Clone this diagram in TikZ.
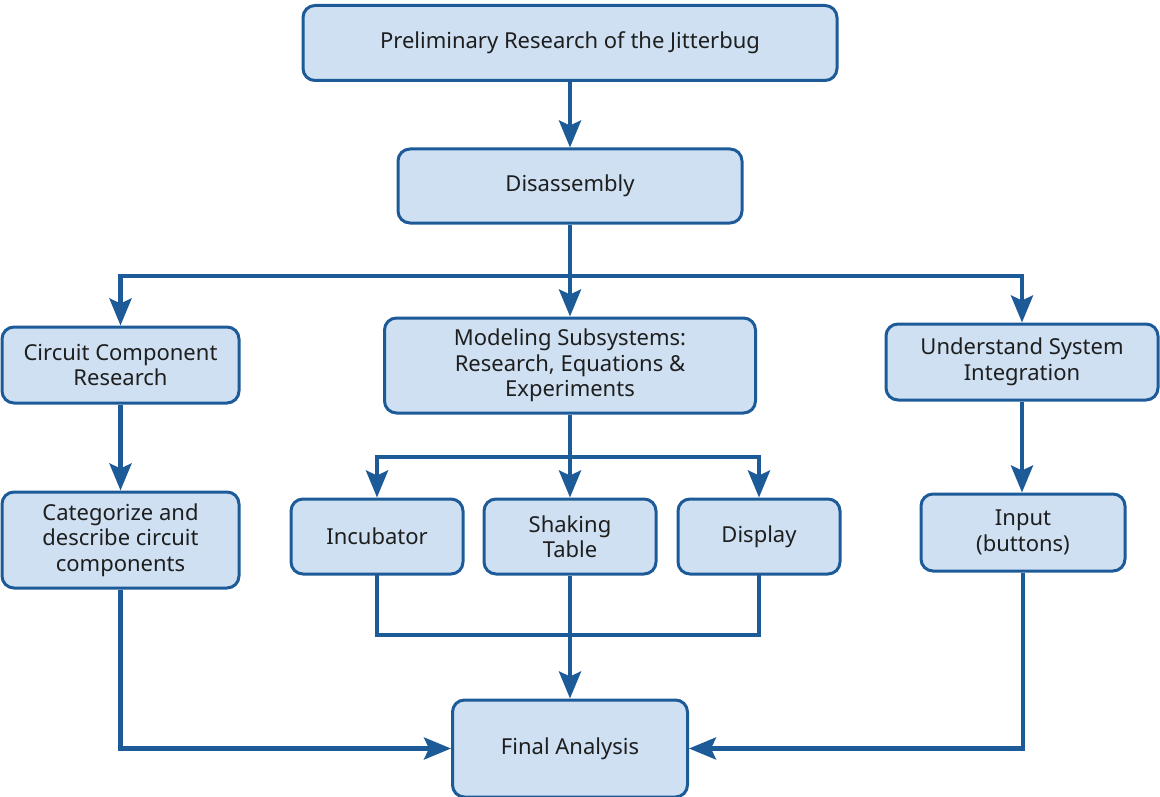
\documentclass[tikz,border=0pt]{standalone}
\usepackage{fontspec}
\setmainfont{Noto Sans}
\usetikzlibrary{arrows.meta}
\definecolor{edge}{HTML}{1D5A98}
\definecolor{boxfill}{HTML}{CEE0F2}
\definecolor{txt}{HTML}{1E1E1E}
\begin{document}
\begin{tikzpicture}[x=1pt,y=-1pt,
  box/.style={draw=edge,fill=boxfill,line width=3pt,rounded corners=12pt,
    align=center,text=txt,font=\fontsize{22}{25.5}\selectfont,inner sep=0pt},
  conn/.style={draw=edge,line width=4.2pt},
  arr/.style={conn,-{Stealth[length=27pt,width=22pt,inset=5pt]}}]
\useasboundingbox (0,0) rectangle (1160,797);
\node[box,minimum width=534pt,minimum height=75pt] (pre) at (570,43) {Preliminary Research of the Jitterbug};
\node[box,minimum width=344pt,minimum height=74pt] (dis) at (570,186) {Disassembly};
\node[box,minimum width=237pt,minimum height=76pt] (ccr) at (120.5,365) {Circuit Component\\Research};
\node[box,minimum width=371pt,minimum height=95pt] (mod) at (570,365.5) {Modeling Subsystems:\\Research, Equations \&\\Experiments};
\node[box,minimum width=272pt,minimum height=76pt] (usi) at (1022,362) {Understand System\\Integration};
\node[box,minimum width=237pt,minimum height=96pt] (cat) at (120.5,540) {Categorize and\\describe circuit\\components};
\node[box,minimum width=172pt,minimum height=75pt] (inc) at (377,536.5) {Incubator};
\node[box,minimum width=172pt,minimum height=75pt] (sha) at (570,536.5) {Shaking\\Table};
\node[box,minimum width=162pt,minimum height=75pt] (dsp) at (759,536.5) {Display};
\node[box,minimum width=204pt,minimum height=77pt] (inp) at (1023,532.5) {Input\\(buttons)};
\node[box,minimum width=235pt,minimum height=97pt] (fin) at (570,748.5) {Final Analysis};
\coordinate (j1) at (570,276);
\coordinate (j2) at (570,457);
\coordinate (j3) at (570,635);
\draw[arr] (pre.south) -- (dis.north);
\draw[conn] (dis.south) -- (j1);
\draw[arr] (j1) -| (ccr.north);
\draw[arr] (j1) -- (mod.north);
\draw[arr] (j1) -| (usi.north);
\draw[arr] (ccr.south) -- (cat.north);
\draw[arr] (usi.south) -- (usi.south |- inp.north);
\draw[conn] (mod.south) -- (j2);
\draw[arr] (j2) -| (inc.north);
\draw[arr] (j2) -- (sha.north);
\draw[arr] (j2) -| (dsp.north);
\draw[conn,line cap=rect] (inc.south) |- (j3);
\draw[conn,line cap=rect] (dsp.south) |- (j3);
\draw[arr] (sha.south) -- (fin.north);
\draw[arr] (cat.south) |- (fin.west);
\draw[arr] (inp.south) |- (fin.east);
\end{tikzpicture}
\end{document}
